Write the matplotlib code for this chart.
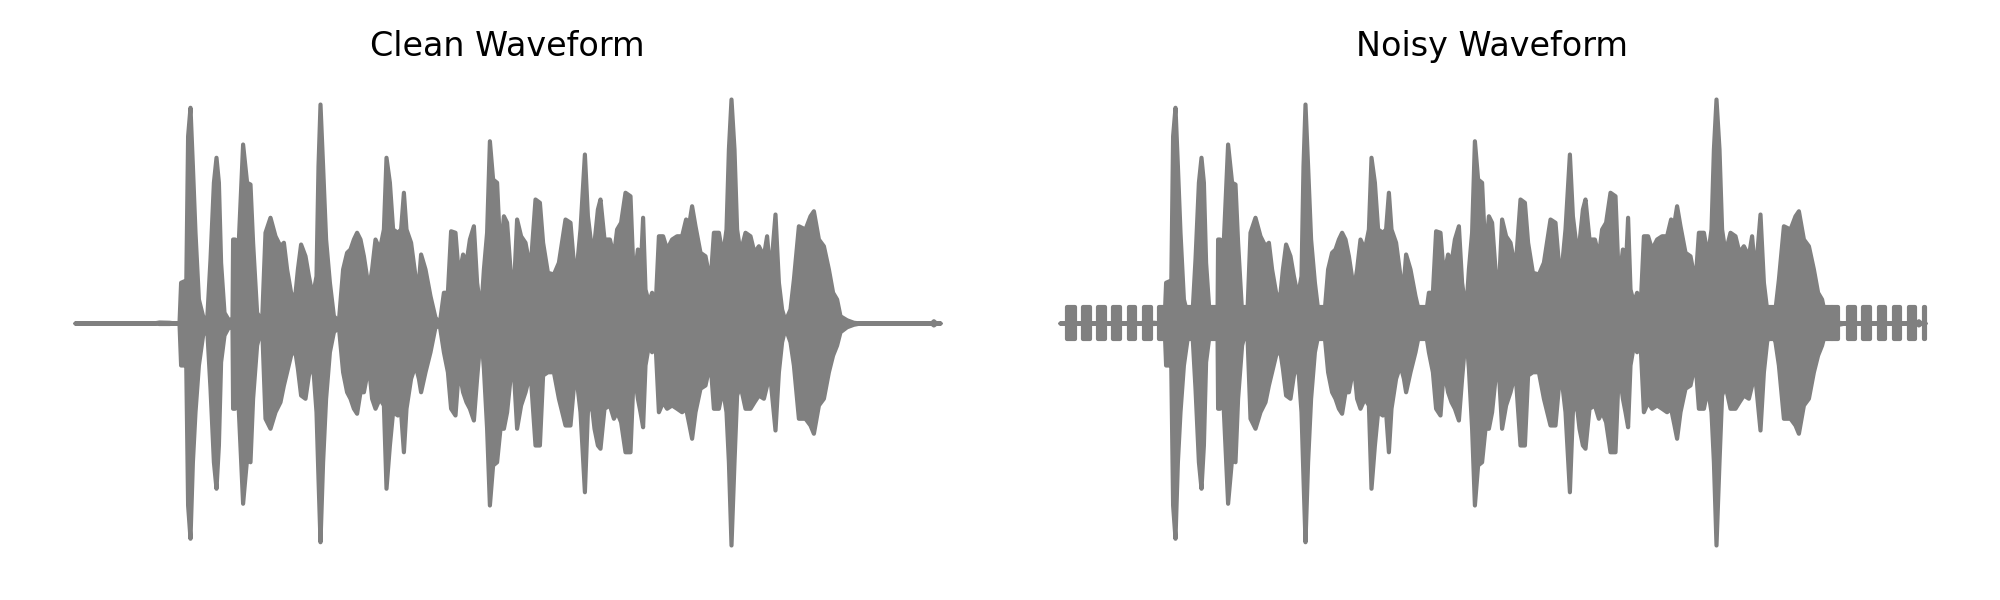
import matplotlib.pyplot as plt
import numpy as np

# envelope of the clean recording
# time in seconds, amplitude normalised to [-1, 1]
env_t = [0.000, 0.390, 0.420, 0.470, 0.500, 0.520, 0.528, 0.545, 0.553, 0.563,
         0.575, 0.587, 0.600, 0.617, 0.638, 0.658, 0.675, 0.692, 0.705, 0.717,
         0.728, 0.745, 0.767, 0.785, 0.788, 0.798, 0.805, 0.817, 0.838, 0.858,
         0.875, 0.888, 0.908, 0.933, 0.950, 0.975, 1.000, 1.025, 1.042, 1.058,
         1.078, 1.097, 1.112, 1.128, 1.150, 1.167, 1.187, 1.205, 1.215, 1.225,
         1.238, 1.253, 1.272, 1.292, 1.317, 1.338, 1.358, 1.375, 1.392, 1.408,
         1.425, 1.442, 1.467, 1.483, 1.500, 1.522, 1.542, 1.555, 1.572, 1.588,
         1.612, 1.628, 1.642, 1.655, 1.678, 1.700, 1.717, 1.728, 1.750, 1.775,
         1.800, 1.822, 1.842, 1.862, 1.878, 1.900, 1.917, 1.938, 1.955, 1.972,
         1.992, 2.008, 2.028, 2.042, 2.058, 2.072, 2.088, 2.108, 2.125, 2.142,
         2.158, 2.175, 2.192, 2.208, 2.228, 2.250, 2.275, 2.300, 2.322, 2.338,
         2.362, 2.392, 2.417, 2.450, 2.475, 2.500, 2.525, 2.547, 2.562, 2.578,
         2.595, 2.612, 2.625, 2.645, 2.672, 2.692, 2.708, 2.728, 2.750, 2.775,
         2.792, 2.812, 2.825, 2.838, 2.850, 2.867, 2.883, 2.900, 2.917, 2.938,
         2.958, 2.983, 3.008, 3.033, 3.053, 3.070, 3.083, 3.100, 3.125, 3.150,
         3.175, 3.192, 3.217, 3.237, 3.255, 3.267, 3.280, 3.295, 3.308, 3.325,
         3.350, 3.375, 3.395, 3.417, 3.442, 3.458, 3.475, 3.500, 3.517, 3.533,
         3.550, 3.575, 3.592, 3.617, 3.650, 3.675, 3.692, 3.717, 3.742, 3.767,
         3.788, 3.808, 3.825, 3.858, 3.892, 3.925, 4.280, 4.292, 4.305, 4.325]
env_hi = [0.000, 0.000, 0.004, 0.003, 0.000, 0.000, 0.163, 0.169, 0.100, 0.749,
          0.863, 0.629, 0.363, 0.096, 0.029, 0.009, 0.256, 0.563, 0.663, 0.563,
          0.243, 0.043, 0.013, 0.020, 0.336, 0.336, 0.029, 0.336, 0.716, 0.563,
          0.556, 0.323, 0.043, 0.009, 0.363, 0.423, 0.349, 0.309, 0.323, 0.216,
          0.123, 0.096, 0.216, 0.316, 0.269, 0.189, 0.109, 0.189, 0.629, 0.876,
          0.629, 0.336, 0.163, 0.029, 0.009, 0.216, 0.283, 0.296, 0.336, 0.363,
          0.336, 0.269, 0.136, 0.216, 0.336, 0.296, 0.376, 0.663, 0.563, 0.376,
          0.363, 0.376, 0.523, 0.376, 0.323, 0.189, 0.163, 0.276, 0.216, 0.109,
          0.023, 0.003, 0.123, 0.123, 0.369, 0.363, 0.189, 0.276, 0.243, 0.336,
          0.389, 0.163, 0.043, 0.216, 0.363, 0.729, 0.576, 0.563, 0.269, 0.429,
          0.403, 0.216, 0.136, 0.416, 0.349, 0.323, 0.216, 0.496, 0.483, 0.323,
          0.203, 0.196, 0.243, 0.416, 0.403, 0.163, 0.376, 0.676, 0.429, 0.323,
          0.323, 0.456, 0.496, 0.336, 0.336, 0.269, 0.376, 0.403, 0.523, 0.509,
          0.163, 0.296, 0.189, 0.423, 0.136, 0.083, 0.123, 0.056, 0.349, 0.349,
          0.296, 0.336, 0.349, 0.349, 0.416, 0.403, 0.469, 0.389, 0.283, 0.269,
          0.163, 0.363, 0.363, 0.269, 0.376, 0.696, 0.896, 0.696, 0.376, 0.283,
          0.363, 0.349, 0.283, 0.309, 0.269, 0.349, 0.189, 0.436, 0.163, 0.056,
          0.009, 0.056, 0.176, 0.389, 0.376, 0.429, 0.449, 0.336, 0.309, 0.216,
          0.123, 0.096, 0.029, 0.013, 0.003, 0.000, 0.000, 0.009, 0.000, 0.000]
env_lo = [0.000, 0.000, -0.002, -0.002, 0.000, 0.000, -0.168, -0.168, -0.120, -0.728,
          -0.861, -0.555, -0.355, -0.168, -0.048, -0.015, -0.261, -0.555, -0.661, -0.488,
          -0.155, -0.048, -0.015, -0.020, -0.341, -0.341, -0.035, -0.355, -0.721, -0.541,
          -0.555, -0.301, -0.088, -0.008, -0.381, -0.421, -0.355, -0.315, -0.248, -0.195,
          -0.128, -0.101, -0.181, -0.288, -0.301, -0.208, -0.155, -0.355, -0.621, -0.875,
          -0.555, -0.301, -0.115, -0.035, -0.015, -0.195, -0.275, -0.301, -0.341, -0.361,
          -0.275, -0.275, -0.168, -0.301, -0.341, -0.301, -0.328, -0.661, -0.488, -0.355,
          -0.368, -0.355, -0.515, -0.341, -0.221, -0.168, -0.221, -0.275, -0.195, -0.115,
          -0.015, -0.011, -0.115, -0.195, -0.341, -0.368, -0.181, -0.275, -0.315, -0.341,
          -0.388, -0.221, -0.035, -0.181, -0.421, -0.728, -0.568, -0.555, -0.421, -0.421,
          -0.355, -0.221, -0.195, -0.421, -0.328, -0.275, -0.195, -0.488, -0.488, -0.208,
          -0.195, -0.195, -0.301, -0.408, -0.408, -0.181, -0.355, -0.675, -0.355, -0.301,
          -0.421, -0.488, -0.501, -0.341, -0.328, -0.381, -0.355, -0.395, -0.515, -0.515,
          -0.181, -0.301, -0.355, -0.415, -0.168, -0.088, -0.115, -0.075, -0.355, -0.315,
          -0.341, -0.328, -0.341, -0.355, -0.341, -0.408, -0.461, -0.355, -0.261, -0.248,
          -0.155, -0.341, -0.341, -0.261, -0.355, -0.555, -0.888, -0.555, -0.288, -0.248,
          -0.341, -0.341, -0.315, -0.288, -0.301, -0.248, -0.221, -0.428, -0.195, -0.075,
          -0.019, -0.075, -0.168, -0.381, -0.381, -0.408, -0.441, -0.328, -0.301, -0.195,
          -0.128, -0.088, -0.035, -0.015, -0.005, 0.000, 0.000, -0.008, 0.000, 0.000]

# the added noise: a tone that switches on and off (visible bursts, seconds)
burst_start = [0.035, 0.113, 0.190, 0.265, 0.343, 0.418, 0.493,
               3.860, 3.940, 4.015, 4.093, 4.168, 4.247, 4.322]
burst_end = [0.073, 0.148, 0.223, 0.298, 0.377, 0.453, 0.523,
             3.890, 3.973, 4.048, 4.123, 4.198, 4.277, 4.325]
noise_amp = 0.065
speech_span = [0.523, 3.860]
duration = 4.325

titles = ['Clean Waveform', 'Noisy Waveform']
wave_color = 'gray'


def draw_band(ax, t, hi, lo):
    ax.fill_between(t, lo, hi, facecolor=wave_color, edgecolor=wave_color,
                    linewidth=1.5, joinstyle='round', clip_on=False)


fig = plt.figure(figsize=(10, 3), dpi=200)
ax_clean = fig.add_axes([0.0375, 0.045, 0.4325, 0.8333])
ax_noisy = fig.add_axes([0.53, 0.045, 0.4325, 0.8333])

# clean
draw_band(ax_clean, env_t, env_hi, env_lo)

# noisy = clean + noise bursts
draw_band(ax_noisy, env_t, env_hi, env_lo)
for s, e in zip(burst_start, burst_end):
    draw_band(ax_noisy, [s, e], [noise_amp, noise_amp], [-noise_amp, -noise_amp])
draw_band(ax_noisy, speech_span, [noise_amp, noise_amp], [-noise_amp, -noise_amp])

for ax, title in zip([ax_clean, ax_noisy], titles):
    ax.set_xlim(0, duration)
    ax.set_ylim(-1, 1)
    ax.set_title(title, fontsize=12)
    ax.axis('off')

fig.savefig('out.png', dpi=200)
